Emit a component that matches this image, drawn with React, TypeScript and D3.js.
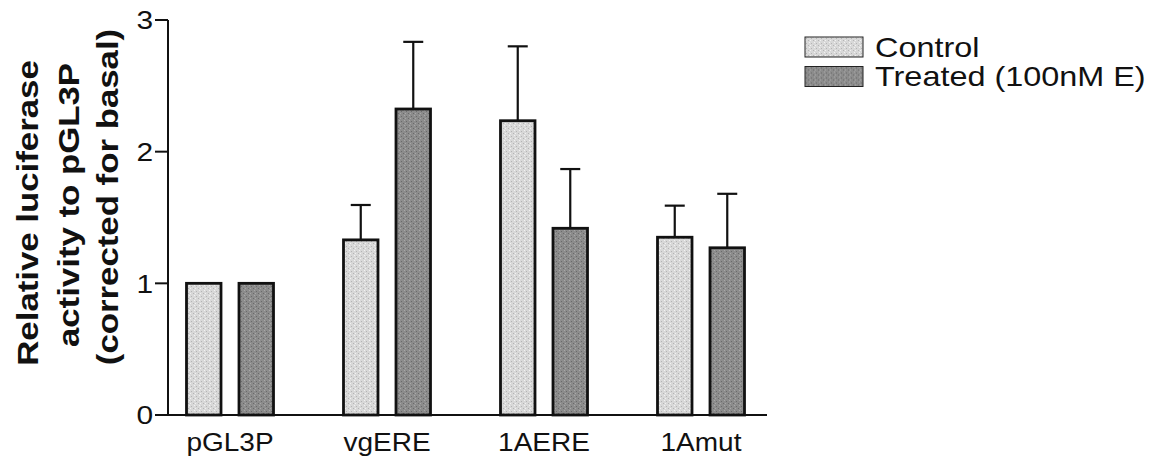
import React from "react";
import * as d3 from "d3";

const categories = ["pGL3P", "vgERE", "1AERE", "1Amut"];
const seriesNames = ["Control", "Treated (100nM E)"];
const controlMeans = [1.0, 1.33, 2.235, 1.35];
const controlErrors = [0, 0.265, 0.565, 0.24];
const treatedMeans = [1.0, 2.324, 1.418, 1.27];
const treatedErrors = [0, 0.51, 0.45, 0.41];
const yTicks = [0, 1, 2, 3];
const titleLines = ["Relative luciferase", "activity to pGL3P", "(corrected for basal)"];

const W = 1164;
const H = 463;
const FONT = "'Liberation Sans', Arial, Helvetica, sans-serif";
const fills = ["#d8d8d8", "#8c8c8c"];
const dots = ["#b4b4b4", "#6a6a6a"];
const specks = ["#f2f2f2", "#a8a8a8"];

// baseline x and centre y of each rotated title line
const titleBaselines = [38, 79, 118];
const titleCenters = [213, 205, 197];

export default function App() {
  const axisX0 = 168;
  const axisX1 = 767;
  const y = d3.scaleLinear().domain([0, 3]).range([415, 20]);
  const x0 = d3.scaleBand<string>().domain(categories).range([151.5, 779.5]).padding(0);
  const x1 = d3
    .scaleBand<string>()
    .domain(seriesNames)
    .range([-43.5, 43.5])
    .paddingInner(0.343)
    .paddingOuter(0);

  const series = [
    { name: seriesNames[0], means: controlMeans, errs: controlErrors },
    { name: seriesNames[1], means: treatedMeans, errs: treatedErrors },
  ];

  const bw = x1.bandwidth();

  return (
    <svg
      width={W}
      height={H}
      viewBox={`0 0 ${W} ${H}`}
      style={{ position: "absolute", left: 0, top: 0, background: "#fff" }}
    >
      <defs>
        {fills.map((f, k) => (
          <pattern key={k} id={`stipple${k}`} width={5} height={5} patternUnits="userSpaceOnUse">
            <rect width={5} height={5} fill={f} />
            <rect x={1} y={1} width={1} height={1} fill={dots[k]} />
            <rect x={3} y={3} width={1} height={1} fill={dots[k]} />
            <rect x={4} y={0} width={1} height={1} fill={specks[k]} />
            <rect x={0} y={3} width={1} height={1} fill={specks[k]} />
          </pattern>
        ))}
      </defs>

      {/* y-axis title */}
      {titleLines.map((t, i) => (
        <text
          key={t}
          transform={`translate(${titleBaselines[i]},${titleCenters[i]}) rotate(-90) scale(1.2,1)`}
          textAnchor="middle"
          fontFamily={FONT}
          fontWeight="bold"
          fontSize={29}
          fill="#111"
        >
          {t}
        </text>
      ))}

      {/* bars and error bars */}
      {series.map((s, k) =>
        categories.map((c, i) => {
          const cx = (x0(c) as number) + x0.bandwidth() / 2 + (x1(s.name) as number) + bw / 2;
          const top = y(s.means[i]);
          const errTop = y(s.means[i] + s.errs[i]);
          return (
            <g key={s.name + c}>
              {s.errs[i] > 0 && (
                <g stroke="#111" strokeWidth={2.2}>
                  <line x1={cx} x2={cx} y1={top} y2={errTop} />
                  <line x1={cx - 10} x2={cx + 10} y1={errTop} y2={errTop} />
                </g>
              )}
              <rect
                x={cx - bw / 2}
                y={top}
                width={bw}
                height={y(0) - top}
                fill={`url(#stipple${k})`}
                stroke="#111"
                strokeWidth={2.8}
              />
            </g>
          );
        })
      )}

      {/* axes */}
      <g stroke="#111" strokeWidth={2} fill="none">
        <line x1={axisX0} x2={axisX0} y1={y(3)} y2={y(0)} />
        <line x1={axisX0} x2={axisX1} y1={y(0)} y2={y(0)} />
        {yTicks.map((t) => (
          <line key={t} x1={axisX0 - 13} x2={axisX0} y1={y(t)} y2={y(t)} />
        ))}
      </g>
      {yTicks.map((t) => (
        <text
          key={t}
          transform={`translate(${axisX0 - 15},${y(t)}) scale(1.15,1)`}
          dy="0.36em"
          textAnchor="end"
          fontFamily={FONT}
          fontSize={26}
          fill="#111"
        >
          {t}
        </text>
      ))}
      {categories.map((c) => (
        <text
          key={c}
          transform={`translate(${(x0(c) as number) + x0.bandwidth() / 2},451) scale(1.12,1)`}
          textAnchor="middle"
          fontFamily={FONT}
          fontSize={25}
          fill="#111"
        >
          {c}
        </text>
      ))}

      {/* legend */}
      {series.map((s, k) => (
        <g key={s.name} transform={`translate(805,${37 + k * 29.5})`}>
          <rect x={0} y={0} width={58} height={20} fill={`url(#stipple${k})`} stroke="#222" strokeWidth={1} />
          <text transform="translate(70,19.5) scale(1.2,1)" fontFamily={FONT} fontSize={27} fill="#111">
            {s.name}
          </text>
        </g>
      ))}
    </svg>
  );
}
